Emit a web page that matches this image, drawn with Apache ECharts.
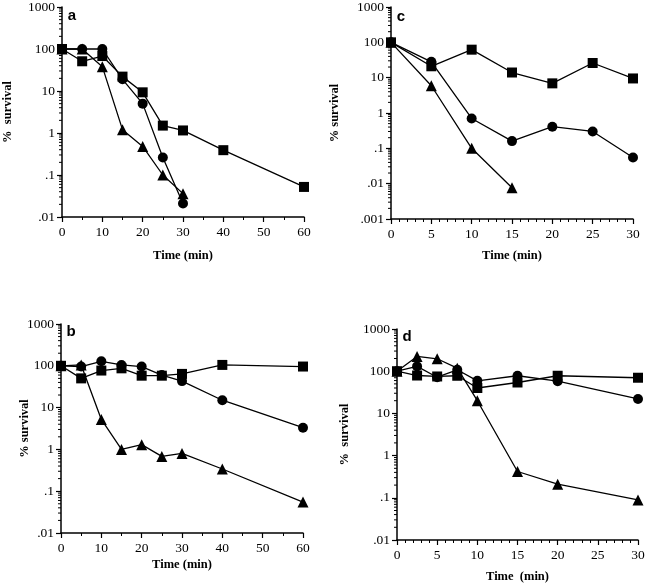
<!DOCTYPE html>
<html>
<head>
<meta charset="utf-8">
<script src="https://cdn.jsdelivr.net/npm/echarts@6/dist/echarts.min.js"></script>
<style>html,body{margin:0;padding:0;background:#fff}#chart{width:649px;height:587px}</style>
</head>
<body>
<div id="chart"></div>
<script>
// Panel a
var aTime = [0, 5, 10, 15, 20, 25, 30, 40, 60];
var aSquare = [100, 51, 68, 22, 9.3, 1.5, 1.15, 0.39, 0.052];
var aTime2 = [0, 5, 10, 15, 20, 25, 30];
var aCircle = [100, 100, 100, 19, 5, 0.26, 0.021];
var aTriangle = [100, 100, 38, 1.2, 0.48, 0.1, 0.036];
// Panel b
var bTime = [0, 5, 10, 15, 20, 25, 30, 40, 60];
var bSquare = [100, 50, 77, 87, 58, 58, 64, 105, 96];
var bCircle = [100, 96, 128, 105, 96, 60, 43, 15, 3.3];
var bTriangle = [100, 105, 5.2, 1.0, 1.3, 0.68, 0.8, 0.34, 0.055];
// Panel c
var cTime = [0, 5, 10, 15, 20, 25, 30];
var cSquare = [100, 21, 62, 14, 6.9, 26, 9.5];
var cCircle = [100, 28, 0.7, 0.16, 0.41, 0.3, 0.055];
var cTime2 = [0, 5, 10, 15];
var cTriangle = [100, 5.9, 0.1, 0.0077];
// Panel d
var dTime = [0, 2.5, 5, 7.5, 10, 15, 20, 30];
var dSquare = [100, 79, 75, 78, 40, 54, 78, 70];
var dCircle = [100, 130, 72, 108, 59, 78, 58, 22];
var dTriangle = [100, 224, 197, 118, 20, 0.42, 0.21, 0.089];

var panelLetters = ['a', 'b', 'c', 'd'];
var xTitle = 'Time (min)';
var xTitleD = 'Time  (min)';
var yTitle = '% survival';
var yTitleWide = '%  survival';

function pairs(xs, ys) { return xs.map(function (x, i) { return [x, ys[i]]; }); }
function fmtLog(v) {
  var e = Math.round(Math.log10(v));
  if (e >= 0) return String(Math.pow(10, e));
  return '.' + '0'.repeat(-e - 1) + '1';
}

var serif = 'Liberation Serif';
var grids = [
  {left: 62, top: 7, width: 242, height: 210},
  {left: 61, top: 324, width: 242, height: 209},
  {left: 391, top: 7, width: 242, height: 212},
  {left: 397, top: 329, width: 241, height: 211}
];
var xCfg = [
  {max: 60, interval: 10, minor: 2, gap: 32, name: xTitle},
  {max: 60, interval: 10, minor: 2, gap: 25, name: xTitle},
  {max: 30, interval: 5, minor: 5, gap: 30, name: xTitle},
  {max: 30, interval: 5, minor: 5, gap: 30, name: xTitleD}
];
var yCfg = [
  {min: 0.01, gap: 48, name: yTitleWide},
  {min: 0.01, gap: 30, name: yTitle},
  {min: 0.001, gap: 50, name: yTitle},
  {min: 0.01, gap: 46, name: yTitleWide}
];

var xAxes = xCfg.map(function (c, i) {
  return {
    gridIndex: i, type: 'value', min: 0, max: c.max, interval: c.interval,
    name: c.name, nameLocation: 'middle', nameGap: c.gap, nameMoveOverlap: false,
    nameTextStyle: {fontFamily: serif, fontWeight: 'bold', fontSize: 12.5, color: '#000'},
    axisLine: {show: true, onZero: false, lineStyle: {color: '#000', width: 1.5}},
    axisTick: {show: true, length: 5, lineStyle: {color: '#000', width: 1.2}},
    minorTick: {show: true, splitNumber: c.minor, length: 3, lineStyle: {color: '#000', width: 1}},
    splitLine: {show: false},
    axisLabel: {fontFamily: serif, fontSize: 13.5, color: '#000', margin: 8}
  };
});
var yAxes = yCfg.map(function (c, i) {
  return {
    gridIndex: i, type: 'log', logBase: 10, min: c.min, max: 1000, interval: 1,
    name: c.name, nameLocation: 'middle', nameGap: c.gap, nameRotate: 90, nameMoveOverlap: false,
    nameTextStyle: {fontFamily: serif, fontWeight: 'bold', fontSize: 12.5, color: '#000'},
    axisLine: {show: true, lineStyle: {color: '#000', width: 1.5}},
    axisTick: {show: true, length: 5, lineStyle: {color: '#000', width: 1.2}},
    splitLine: {show: false},
    axisLabel: {fontFamily: serif, fontSize: 13.5, color: '#000', margin: 7, formatter: fmtLog}
  };
});

// log minor tick positions (axis decoration)
function minorVals(min) {
  var out = [];
  for (var e = Math.round(Math.log10(min)); e < 3; e++) {
    for (var m = 2; m <= 9; m++) out.push([0, m * Math.pow(10, e)]);
  }
  return out;
}
function minorTickSeries(i, min) {
  return {
    type: 'custom', xAxisIndex: i, yAxisIndex: i, data: minorVals(min), silent: true, z: 1,
    clip: false,
    renderItem: function (params, api) {
      var p = api.coord([0, api.value(1)]);
      return {type: 'line', shape: {x1: p[0] - 3, y1: p[1], x2: p[0], y2: p[1]},
        style: {stroke: '#000', lineWidth: 1}};
    }
  };
}

function ser(i, xs, ys, sym, size) {
  return {
    type: 'line', xAxisIndex: i, yAxisIndex: i, data: pairs(xs, ys),
    symbol: sym, symbolSize: size, showSymbol: true,
    lineStyle: {color: '#000', width: 1.3},
    itemStyle: {color: '#000'}, animation: false, z: 3
  };
}
var series = [
  ser(0, aTime, aSquare, 'rect', 10), ser(0, aTime2, aCircle, 'circle', 10), ser(0, aTime2, aTriangle, 'triangle', 11),
  ser(1, bTime, bSquare, 'rect', 10), ser(1, bTime, bCircle, 'circle', 10), ser(1, bTime, bTriangle, 'triangle', 11),
  ser(2, cTime, cSquare, 'rect', 10), ser(2, cTime, cCircle, 'circle', 10), ser(2, cTime2, cTriangle, 'triangle', 11),
  ser(3, dTime, dSquare, 'rect', 10), ser(3, dTime, dCircle, 'circle', 10), ser(3, dTime, dTriangle, 'triangle', 11)
];
yCfg.forEach(function (c, i) { series.push(minorTickSeries(i, c.min)); });

var letterPos = [[72, 16], [71, 332], [401, 17], [407, 337]];
var graphics = panelLetters.map(function (t, i) {
  return {type: 'text', x: letterPos[i][0], y: letterPos[i][1],
    style: {text: t, fontFamily: 'Liberation Sans', fontWeight: 'bold', fontSize: 15,
      fill: '#000', textAlign: 'center', textVerticalAlign: 'middle'}};
});

var chart = echarts.init(document.getElementById('chart'));
chart.setOption({
  animation: false,
  backgroundColor: '#fff',
  grid: grids,
  xAxis: xAxes,
  yAxis: yAxes,
  series: series,
  graphic: graphics
});
</script>
</body>
</html>
